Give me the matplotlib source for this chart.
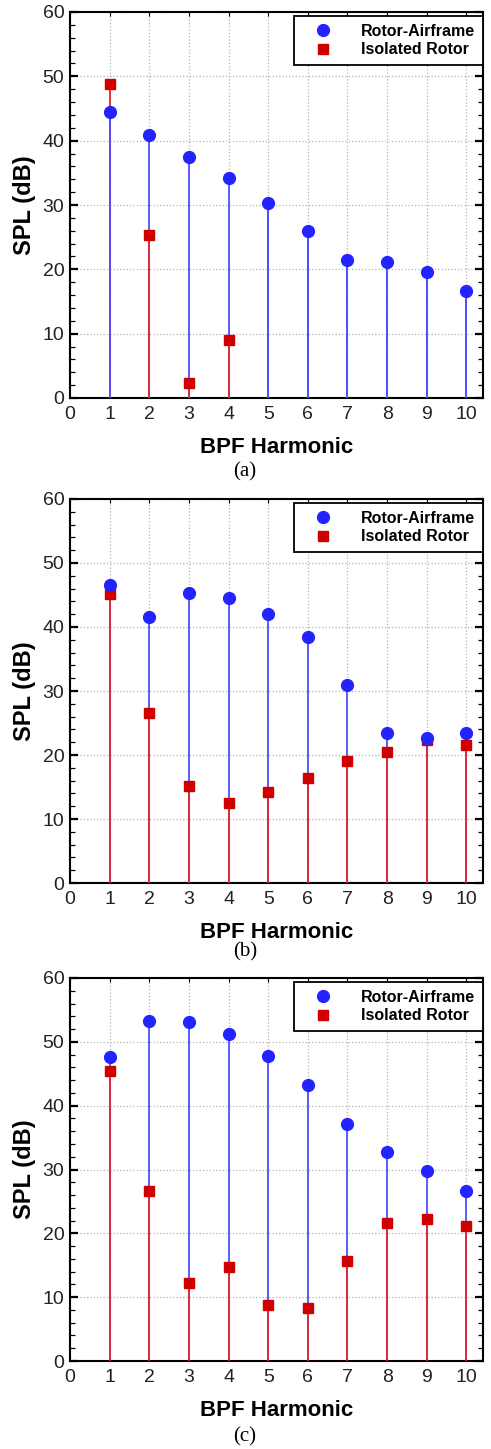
import matplotlib
matplotlib.use('Agg')
import matplotlib.pyplot as plt
import matplotlib.ticker as ticker
import numpy as np

harmonic = np.arange(1, 11)

# SPL (dB)
rotor_airframe_a = [44.4, 40.9, 37.5, 34.2, 30.3, 25.9, 21.5, 21.1, 19.6, 16.6]
isolated_rotor_a = [48.8, 25.3, 2.4, 9.0, np.nan, np.nan, np.nan, np.nan, np.nan, np.nan]

rotor_airframe_b = [46.6, 41.5, 45.3, 44.5, 42.0, 38.4, 31.0, 23.4, 22.7, 23.4]
isolated_rotor_b = [45.2, 26.6, 15.1, 12.5, 14.2, 16.4, 19.0, 20.5, 22.4, 21.6]

rotor_airframe_c = [47.7, 53.3, 53.1, 51.2, 47.8, 43.2, 37.1, 32.7, 29.8, 26.7]
isolated_rotor_c = [45.4, 26.6, 12.2, 14.7, 8.8, 8.3, 15.7, 21.6, 22.3, 21.2]

captions = ['(a)', '(b)', '(c)']

blue = '#2323ff'
blue_stem = '#5050ff'
red = '#d00000'
red_stem = '#e02a2a'

plt.rcParams['font.family'] = ['Liberation Sans', 'DejaVu Sans']

fig = plt.figure(figsize=(4.91, 14.49), dpi=100)

# axes boxes in pixels: (top, bottom) ; left/right shared
boxes = [(12, 398), (499, 883), (978, 1361)]
caption_y = [472, 952, 1437]
W, H = 491.0, 1449.0
left, right = 70, 483

panels = [(rotor_airframe_a, isolated_rotor_a),
          (rotor_airframe_b, isolated_rotor_b),
          (rotor_airframe_c, isolated_rotor_c)]

for (ra, ir), (top, bot), cap, cy in zip(panels, boxes, captions, caption_y):
    ra = np.array(ra, dtype=float)
    ir = np.array(ir, dtype=float)
    ax = fig.add_axes([left / W, 1 - bot / H, (right - left) / W, (bot - top) / H])

    # taller stem behind, shorter stem in front
    tall = np.fmax(ra, ir)
    short = np.fmin(ra, ir)
    tall_is_ra = (ra >= ir) | np.isnan(ir)
    short_is_ra = (~tall_is_ra) | np.isnan(ir)
    ax.vlines(harmonic, 0, tall, colors=np.where(tall_is_ra, blue_stem, red_stem),
              linewidth=1.3, zorder=2)
    ax.vlines(harmonic, 0, short, colors=np.where(short_is_ra, blue_stem, red_stem),
              linewidth=1.3, zorder=3)

    ax.plot(harmonic, ir, 's', color=red, markersize=7.5, linestyle='none',
            label='Isolated Rotor', zorder=4)
    ax.plot(harmonic, ra, 'o', color=blue, markersize=8.5, linestyle='none',
            label='Rotor-Airframe', zorder=5)

    ax.set_xlim(0, 10.42)
    ax.set_ylim(0, 60)
    ax.yaxis.set_major_locator(ticker.MultipleLocator(10))
    ax.yaxis.set_minor_locator(ticker.MultipleLocator(2))
    ax.set_xticks(range(0, 11))

    ax.grid(True, which='major', linestyle=':', color='#b4b4b4', linewidth=0.9)
    ax.set_axisbelow(True)

    ax.tick_params(axis='y', which='major', direction='in', length=6, width=1.6,
                   left=True, right=True, labelsize=14, pad=4, colors='black',
                   labelcolor='#222222')
    ax.tick_params(axis='y', which='minor', direction='in', length=3.5, width=0.9,
                   left=True, right=True)
    ax.tick_params(axis='x', which='major', direction='in', length=3, width=0.8,
                   top=True, bottom=False, labelsize=14, pad=6, labelcolor='#222222')
    for sp in ax.spines.values():
        sp.set_linewidth(1.5)

    ax.set_xlabel('BPF Harmonic', fontsize=16, fontweight='bold', labelpad=10)
    ax.set_ylabel('SPL (dB)', fontsize=17, fontweight='bold')
    ax.yaxis.set_label_coords(-0.083, 0.5)

    handles, labels = ax.get_legend_handles_labels()
    leg = ax.legend(handles[::-1], labels[::-1], loc='upper right',
                    bbox_to_anchor=(1.0, 1 - 4.0 / (bot - top)), borderaxespad=0,
                    fancybox=False, framealpha=1, edgecolor='black',
                    prop={'weight': 'bold', 'size': 11.5}, handlelength=2.6,
                    handletextpad=1.1, borderpad=0.5, labelspacing=0.2,
                    numpoints=1)
    leg.get_frame().set_linewidth(1.3)
    leg.set_zorder(10)

    fig.text(245 / W, 1 - cy / H, cap, ha='center', va='center', fontsize=15,
             family=['Liberation Serif', 'DejaVu Serif'])

fig.savefig('out.png', dpi=100)
